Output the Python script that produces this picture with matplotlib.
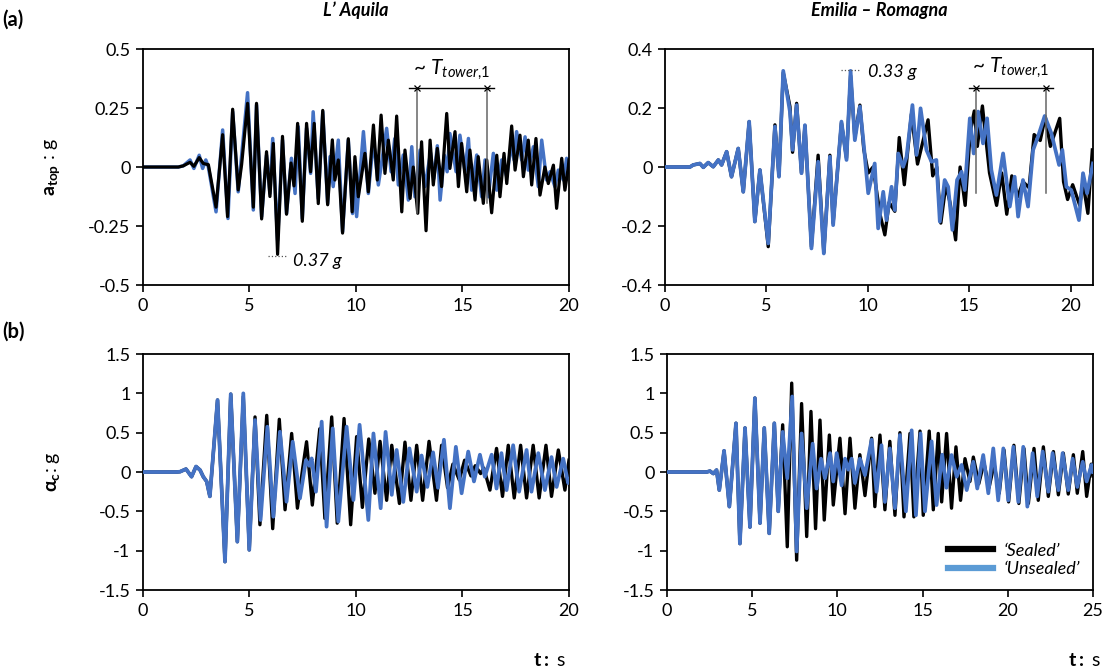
import matplotlib
matplotlib.use("Agg")
import matplotlib.pyplot as plt
from matplotlib.lines import Line2D

plt.rcParams['font.family'] = ['Lato', 'DejaVu Sans']
plt.rcParams['mathtext.fontset'] = 'custom'
plt.rcParams['mathtext.rm'] = 'Lato'
plt.rcParams['mathtext.it'] = 'Lato:italic'
plt.rcParams['mathtext.bf'] = 'Lato:bold'
plt.rcParams['axes.unicode_minus'] = False
plt.rcParams['lines.solid_joinstyle'] = 'round'

# ---- data: (t [s], value [g]) read from the peaks of each trace ----
# (a) L' Aquila, a_top
aq_top_sealed = [
    (0, 0), (1.66, 0), (1.89, 0.005), (2.21, 0.02), (2.39, 0.003), (2.64, 0.04), (2.83, 0.015),
    (3.07, 0.01), (3.43, -0.17), (3.74, 0.137), (3.97, -0.21), (4.21, 0.245), (4.47, -0.097),
    (4.63, 0.01), (4.91, 0.27), (5.18, -0.17), (5.33, 0.27), (5.57, -0.22), (5.80, 0.065),
    (5.96, -0.125), (6.12, 0.10), (6.32, -0.37), (6.55, 0.13), (6.74, -0.20), (6.95, 0.017),
    (7.09, -0.08), (7.26, 0.185), (7.48, -0.23), (7.68, 0.185), (7.87, -0.02), (8.04, 0.185),
    (8.23, -0.155), (8.44, 0.24), (8.67, -0.16), (8.89, 0.115), (9.01, -0.055), (9.17, 0.03),
    (9.37, -0.28), (9.64, 0.12), (9.82, -0.19), (9.95, 0.044), (10.11, -0.126), (10.42, 0.058),
    (10.58, -0.105), (10.82, 0.178), (11.00, -0.055), (11.18, 0.22), (11.36, -0.027), (11.52, 0.114),
    (11.75, -0.055), (11.91, 0.216), (12.15, -0.19), (12.30, 0.072), (12.54, -0.133), (12.69, 0.0),
    (12.90, -0.196), (13.08, 0.107), (13.29, -0.27), (13.48, 0.114), (13.63, -0.076), (13.82, 0.079),
    (14.02, -0.083), (14.26, 0.227), (14.41, -0.006), (14.65, 0.15), (14.81, -0.083), (14.96, 0.10),
    (15.20, -0.105), (15.35, 0.072), (15.59, -0.14), (15.74, 0.044), (15.98, -0.154), (16.14, 0.03),
    (16.37, -0.194), (16.61, 0.05), (16.76, -0.126), (16.95, 0.058), (17.08, -0.07), (17.31, 0.174),
    (17.47, -0.013), (17.70, 0.135), (17.86, -0.041), (18.09, 0.114), (18.25, -0.076), (18.45, 0.121),
    (18.64, -0.119), (18.87, 0.0), (19.03, -0.07), (19.27, 0.008), (19.42, -0.175), (19.66, 0.037),
    (19.81, -0.098), (19.97, 0.0), (20.0, 0.03)]
aq_top_unsealed = [
    (0, 0), (1.66, 0), (1.89, 0.005), (2.21, 0.03), (2.39, -0.006), (2.64, 0.05), (2.80, -0.006),
    (2.95, 0.03), (3.07, 0.0), (3.43, -0.19), (3.74, 0.157), (3.99, -0.218), (4.21, 0.234),
    (4.47, -0.105), (4.91, 0.315), (5.18, -0.182), (5.33, 0.263), (5.57, -0.21), (5.80, 0.05),
    (5.96, -0.112), (6.09, 0.121), (6.32, -0.31), (6.55, 0.114), (6.74, -0.197), (6.97, 0.037),
    (7.14, -0.112), (7.29, 0.171), (7.48, -0.218), (7.68, 0.164), (7.87, -0.027), (7.99, 0.234),
    (8.23, -0.133), (8.44, 0.234), (8.67, -0.154), (8.78, 0.044), (8.93, -0.083), (9.17, 0.114),
    (9.37, -0.274), (9.64, 0.114), (9.84, -0.197), (9.93, -0.05), (10.03, -0.21), (10.35, 0.15),
    (10.58, -0.112), (10.82, 0.114), (11.05, -0.076), (11.44, 0.164), (11.65, -0.02), (11.82, 0.12),
    (11.99, -0.076), (12.22, 0.051), (12.46, -0.14), (12.62, 0.086), (12.77, -0.126), (13.01, 0.072),
    (13.24, -0.083), (13.50, 0.06), (13.65, -0.05), (13.82, 0.09), (13.95, -0.14), (14.15, 0.05),
    (14.28, -0.02), (14.41, 0.142), (14.70, -0.02), (14.88, 0.135), (15.12, -0.02), (15.28, 0.121),
    (15.43, -0.098), (15.67, 0.051), (15.90, -0.126), (16.06, 0.03), (16.21, -0.126), (16.45, 0.058),
    (16.61, -0.098), (16.84, 0.03), (17.08, -0.041), (17.30, 0.10), (17.42, 0.03), (17.54, 0.15),
    (17.78, 0.03), (17.94, 0.128), (18.09, -0.013), (18.33, 0.086), (18.56, -0.083), (18.72, 0.114),
    (18.95, -0.055), (19.11, -0.02), (19.34, -0.083), (19.50, -0.013), (19.74, -0.055), (19.89, 0.037),
    (20.0, 0.0)]

# (a) Emilia - Romagna, a_top
em_top_unsealed = [
    (0, 0), (1.23, 0), (1.39, 0.007), (1.72, 0.012), (1.89, -0.001), (2.13, 0.015), (2.38, 0.001),
    (2.63, 0.024), (2.79, 0.007), (3.04, 0.052), (3.28, -0.033), (3.61, 0.063), (3.86, -0.084),
    (4.15, 0.154), (4.43, -0.185), (4.68, -0.010), (5.09, -0.259), (5.42, 0.137), (5.62, -0.033),
    (5.83, 0.326), (6.16, 0.188), (6.29, 0.058), (6.49, 0.210), (6.73, -0.021), (6.90, 0.142),
    (7.22, -0.276), (7.55, 0.018), (7.83, -0.293), (8.13, 0.035), (8.29, -0.197), (8.70, 0.154),
    (8.95, 0.024), (9.15, 0.326), (9.36, 0.091), (9.61, 0.205), (9.80, 0.075), (10.02, -0.089),
    (10.34, 0.012), (10.51, -0.208), (10.76, -0.084), (10.92, -0.180), (11.17, -0.067), (11.33, -0.146),
    (11.50, 0.046), (11.74, 0.001), (11.91, 0.035), (12.20, 0.210), (12.40, 0.041), (12.60, 0.199),
    (12.89, 0.058), (13.14, 0.018), (13.38, 0.024), (13.55, -0.185), (13.79, -0.044), (13.96, -0.067),
    (14.17, -0.213), (14.40, -0.044), (14.62, -0.016), (14.78, -0.078), (15.03, 0.165), (15.22, 0.046),
    (15.44, 0.188), (15.68, 0.080), (15.88, 0.165), (16.09, -0.010), (16.34, -0.095), (16.67, 0.046),
    (17.00, -0.134), (17.24, -0.033), (17.41, -0.168), (17.65, -0.044), (17.90, -0.134), (18.15, 0.058),
    (18.39, 0.103), (18.72, 0.173), (19.05, 0.114), (19.43, 0.007), (19.59, 0.058), (19.79, -0.067),
    (20.03, -0.078), (20.41, -0.180), (20.61, -0.021), (20.81, -0.089), (21.10, 0.012)]
em_top_sealed = [
    (0, 0), (1.23, 0), (1.39, 0.007), (1.72, 0.012), (1.89, -0.001), (2.13, 0.015), (2.38, 0.001),
    (2.63, 0.024), (2.79, 0.007), (3.04, 0.052), (3.28, -0.033), (3.61, 0.063), (3.86, -0.084),
    (4.15, 0.154), (4.43, -0.185), (4.68, -0.010), (5.09, -0.27), (5.42, 0.143), (5.62, -0.03),
    (5.83, 0.32), (6.16, 0.205), (6.29, 0.05), (6.49, 0.216), (6.73, -0.02), (6.90, 0.14),
    (7.22, -0.27), (7.55, 0.04), (7.83, -0.29), (8.13, 0.04), (8.29, -0.19), (8.70, 0.15),
    (8.95, 0.03), (9.15, 0.31), (9.36, 0.10), (9.61, 0.21), (9.80, 0.06), (10.02, -0.02),
    (10.26, 0.0), (10.60, -0.16), (10.84, -0.23), (11.05, -0.12), (11.33, -0.15), (11.55, 0.10),
    (11.80, -0.06), (12.15, 0.18), (12.45, 0.01), (12.97, 0.16), (13.20, -0.03), (13.40, 0.0),
    (13.60, -0.19), (13.85, -0.06), (14.05, -0.12), (14.33, -0.247), (14.55, 0.0), (14.80, -0.13),
    (15.05, 0.12), (15.25, 0.19), (15.40, 0.07), (15.65, 0.207), (16.00, -0.02), (16.35, -0.13),
    (16.60, -0.02), (16.85, -0.16), (17.10, -0.03), (17.40, -0.10), (17.65, -0.05), (17.95, -0.07),
    (18.20, 0.11), (18.50, 0.09), (18.75, 0.17), (19.00, 0.07), (19.46, 0.165), (19.65, -0.05),
    (19.85, -0.11), (20.10, -0.06), (20.45, -0.13), (20.60, -0.05), (20.85, -0.157), (21.07, 0.058)]

# (b) L' Aquila, alpha_c
aq_c_unsealed = [
    (0, 0), (1.58, 0), (1.74, 0.004), (2.02, 0.038), (2.28, -0.06), (2.49, 0.07), (2.68, 0.025),
    (2.83, -0.06), (2.99, -0.12), (3.14, -0.31), (3.50, 0.915), (3.85, -1.14), (4.12, 0.99),
    (4.43, -0.886), (4.71, 1.0), (4.99, -0.99), (5.26, 0.66), (5.52, -0.61), (5.84, 0.576),
    (6.12, -0.568), (6.43, 0.512), (6.74, -0.377), (7.03, 0.385), (7.37, -0.335), (7.65, 0.152),
    (7.80, 0.08), (7.92, 0.173), (8.12, -0.25), (8.39, 0.64), (8.62, -0.695), (8.91, 0.555),
    (9.17, -0.63), (9.56, 0.576), (9.88, -0.356), (10.17, 0.60), (10.58, -0.61), (10.82, 0.49),
    (11.16, -0.46), (11.39, 0.51), (11.68, -0.29), (11.91, 0.28), (12.22, -0.38), (12.51, 0.30),
    (12.85, -0.25), (13.08, 0.21), (13.35, -0.19), (13.62, 0.25), (13.85, -0.20), (14.13, 0.41),
    (14.41, -0.46), (14.69, 0.32), (14.96, -0.27), (15.27, 0.26), (15.54, -0.12), (15.82, 0.22),
    (16.05, -0.06), (16.37, 0.22), (16.60, -0.21), (16.83, 0.24), (17.07, -0.23), (17.38, 0.34),
    (17.66, -0.25), (18.01, 0.28), (18.24, -0.25), (18.56, 0.24), (18.87, -0.23), (19.18, 0.19),
    (19.42, -0.19), (19.73, 0.17), (19.96, -0.14), (20.0, -0.10)]
aq_c_sealed = [
    (0, 0), (1.58, 0), (1.74, 0.004), (2.02, 0.038), (2.28, -0.06), (2.49, 0.07), (2.68, 0.025),
    (2.83, -0.06), (2.99, -0.12), (3.14, -0.31), (3.50, 0.915), (3.85, -1.14), (4.12, 0.99),
    (4.43, -0.886), (4.71, 0.96), (4.99, -0.99), (5.26, 0.70), (5.49, -0.67), (5.81, 0.72),
    (6.09, -0.72), (6.40, 0.67), (6.67, -0.48), (6.98, 0.49), (7.25, -0.46), (7.50, 0.05),
    (7.68, 0.385), (7.95, -0.42), (8.30, 0.55), (8.54, -0.59), (8.86, 0.70), (9.12, -0.65),
    (9.44, 0.68), (9.75, -0.67), (10.03, 0.45), (10.30, -0.45), (10.60, 0.42), (10.89, -0.27),
    (11.13, 0.39), (11.44, -0.36), (11.68, 0.34), (12.04, -0.40), (12.30, 0.38), (12.58, -0.36),
    (12.85, 0.34), (13.13, -0.36), (13.43, 0.39), (13.78, -0.36), (14.02, 0.34), (14.30, -0.20),
    (14.55, 0.10), (14.85, -0.10), (15.10, 0.15), (15.40, -0.05), (15.60, 0.08), (15.85, -0.02),
    (16.00, 0.05), (16.29, -0.23), (16.60, 0.30), (16.88, -0.31), (17.15, 0.34), (17.43, -0.33),
    (17.73, 0.34), (18.01, -0.33), (18.32, 0.34), (18.60, -0.33), (18.92, 0.34), (19.18, -0.31),
    (19.50, 0.28), (19.81, -0.23), (20.0, 0.15)]

# (b) Emilia - Romagna, alpha_c
em_c_unsealed = [
    (0, 0), (2.33, 0), (2.52, 0.012), (2.72, -0.02), (2.91, 0.025), (3.07, -0.23), (3.35, 0.27),
    (3.66, -0.44), (4.05, 0.62), (4.28, -0.91), (4.58, 0.56), (4.87, -0.70), (5.16, 0.94),
    (5.46, -0.65), (5.71, 0.56), (6.00, -0.78), (6.30, 0.62), (6.53, -0.50), (6.79, 0.51),
    (7.06, -0.08), (7.35, 0.96), (7.61, -1.01), (7.90, 0.49), (8.20, -0.46), (8.55, 0.36),
    (8.78, -0.21), (9.04, 0.17), (9.27, -0.08), (9.57, 0.24), (9.76, -0.12), (9.96, 0.24),
    (10.25, -0.17), (10.45, 0.17), (10.64, 0.03), (10.84, 0.17), (11.03, -0.14), (11.32, 0.17),
    (11.62, -0.04), (12.01, 0.41), (12.30, -0.25), (12.59, 0.34), (12.79, -0.38), (13.08, 0.30),
    (13.38, -0.46), (13.67, 0.47), (14.02, -0.50), (14.36, 0.53), (14.61, -0.55), (14.88, 0.49),
    (15.14, -0.50), (15.53, 0.39), (15.82, -0.42), (16.15, 0.22), (16.40, -0.20), (16.70, 0.216),
    (17.00, -0.06), (17.29, 0.09), (17.59, -0.23), (17.98, 0.13), (18.21, -0.21), (18.56, 0.216),
    (18.86, -0.27), (19.15, 0.30), (19.44, -0.36), (19.74, 0.30), (20.03, -0.36), (20.33, 0.32),
    (20.62, -0.38), (20.91, 0.32), (21.15, -0.44), (21.46, 0.24), (21.73, -0.31), (22.05, 0.26),
    (22.38, -0.25), (22.63, 0.24), (22.97, -0.23), (23.22, 0.24), (23.55, -0.23), (23.81, 0.17),
    (24.08, -0.19), (24.40, 0.13), (24.63, -0.12), (24.92, 0.09), (25.0, 0.0)]
em_c_sealed = [
    (0, 0), (2.33, 0), (2.52, 0.012), (2.72, -0.02), (2.91, 0.025), (3.07, -0.23), (3.35, 0.27),
    (3.66, -0.44), (4.05, 0.62), (4.28, -0.91), (4.58, 0.56), (4.87, -0.70), (5.16, 0.94),
    (5.46, -0.65), (5.71, 0.56), (6.00, -0.78), (6.30, 0.62), (6.53, -0.50), (6.79, 0.60),
    (7.06, -0.95), (7.32, 1.13), (7.61, -1.12), (7.90, 0.87), (8.20, -0.82), (8.45, 0.77),
    (8.72, -0.72), (8.98, 0.66), (9.23, -0.61), (9.53, 0.47), (9.76, -0.42), (10.15, 0.43),
    (10.45, -0.53), (10.74, 0.43), (11.03, -0.46), (11.32, 0.22), (11.62, -0.30), (12.01, 0.43),
    (12.20, -0.44), (12.50, 0.47), (12.79, -0.48), (13.08, 0.39), (13.38, -0.55), (13.67, 0.50),
    (13.91, -0.57), (14.26, 0.49), (14.49, -0.57), (14.85, 0.52), (15.04, -0.55), (15.39, 0.52),
    (15.63, -0.48), (15.92, 0.49), (16.12, -0.38), (16.41, 0.49), (16.70, -0.46), (16.96, 0.32),
    (17.23, -0.36), (17.49, 0.17), (17.78, -0.12), (17.98, 0.19), (18.30, -0.15), (18.60, 0.12),
    (18.90, -0.20), (19.20, 0.10), (19.50, -0.27), (19.78, 0.28), (20.05, -0.38), (20.36, 0.34),
    (20.65, -0.40), (20.95, 0.30), (21.21, -0.40), (21.54, 0.30), (21.79, -0.36), (22.09, 0.32),
    (22.38, -0.31), (22.68, 0.26), (22.97, -0.29), (23.26, 0.24), (23.55, -0.28), (23.85, 0.22),
    (24.08, -0.27), (24.40, 0.26), (24.63, -0.31), (24.90, 0.10), (25.0, -0.05)]

# peak labels and tower-period markers
aq_peak = -0.37
em_peak = 0.33
aq_period = (12.85, 16.14)
em_period = (15.35, 18.80)

BLACK = 'black'
BLUE = '#4472C4'
BLUE_LEG = '#5B9BD5'


def unzip(pairs):
    return [p[0] for p in pairs], [p[1] for p in pairs]


def style(ax, xlim, xticks, ylim, yticks):
    ax.set_xlim(xlim)
    ax.set_ylim(ylim)
    ax.set_xticks(xticks)
    ax.set_yticks(yticks)
    ax.set_yticklabels(['{:g}'.format(v) for v in yticks])
    ax.tick_params(direction='out', length=5, width=1.2, labelsize=13, pad=4)
    for s in ax.spines.values():
        s.set_linewidth(1.3)


fig = plt.figure(figsize=(11.05, 6.7), dpi=100)

ax1 = fig.add_axes([0.1294, 0.5746, 0.3855, 0.3522])
ax2 = fig.add_axes([0.6018, 0.5746, 0.3873, 0.3522])
ax3 = fig.add_axes([0.1294, 0.1194, 0.3855, 0.3522])
ax4 = fig.add_axes([0.6036, 0.1194, 0.3855, 0.3522])

# top left: black on top
t, v = unzip(aq_top_unsealed)
ax1.plot(t, v, color=BLUE, lw=2.5, zorder=2)
t, v = unzip(aq_top_sealed)
ax1.plot(t, v, color=BLACK, lw=2.3, zorder=3)
style(ax1, (0, 20), [0, 5, 10, 15, 20], (-0.5, 0.5), [-0.5, -0.25, 0, 0.25, 0.5])

# other panels: blue on top
t, v = unzip(em_top_sealed)
ax2.plot(t, v, color=BLACK, lw=2.4, zorder=2)
t, v = unzip(em_top_unsealed)
ax2.plot(t, v, color=BLUE, lw=2.7, zorder=3)
style(ax2, (0, 21.1), [0, 5, 10, 15, 20], (-0.4, 0.4), [-0.4, -0.2, 0, 0.2, 0.4])

t, v = unzip(aq_c_sealed)
ax3.plot(t, v, color=BLACK, lw=2.4, zorder=2)
t, v = unzip(aq_c_unsealed)
ax3.plot(t, v, color=BLUE, lw=2.7, zorder=3)
style(ax3, (0, 20), [0, 5, 10, 15, 20], (-1.5, 1.5), [-1.5, -1, -0.5, 0, 0.5, 1, 1.5])

t, v = unzip(em_c_sealed)
ax4.plot(t, v, color=BLACK, lw=2.4, zorder=2)
t, v = unzip(em_c_unsealed)
ax4.plot(t, v, color=BLUE, lw=2.7, zorder=3)
style(ax4, (0, 25), [0, 5, 10, 15, 20, 25], (-1.5, 1.5), [-1.5, -1, -0.5, 0, 0.5, 1, 1.5])

# peak annotations
ax1.plot([5.87, 6.76], [aq_peak - 0.005, aq_peak - 0.005], color='#555555', lw=0.9, ls=':', zorder=4)
ax1.text(7.05, aq_peak - 0.03, '{:.2f} g'.format(abs(aq_peak)), style='italic', fontsize=13, va='center')
ax2.plot([8.67, 9.61], [em_peak, em_peak], color='#555555', lw=0.9, ls=':', zorder=4)
ax2.text(10.0, em_peak - 0.008, '{:.2f} g'.format(em_peak), style='italic', fontsize=13, va='center')

# tower period markers
for ax, (ta, tb), yh, ybot, x0, x1, ylab in [
        (ax1, aq_period, 0.333, (-0.195, -0.153), 12.49, 16.48, 0.41),
        (ax2, em_period, 0.267, (-0.089, -0.089), 14.98, 19.11, 0.336)]:
    ax.plot([x0, x1], [yh, yh], color='black', lw=1.0, zorder=5)
    ax.plot([ta, ta], [yh, ybot[0]], color='#666666', lw=1.1, zorder=5)
    ax.plot([tb, tb], [yh, ybot[1]], color='#666666', lw=1.1, zorder=5)
    ax.plot([ta, tb], [yh, yh], ls='none', marker='x', ms=4, mew=0.9, color='black', zorder=6)
    ax.text((x0 + x1) / 2, ylab, r'~ $T_{tower{,}1}$', fontsize=15, ha='center', va='center')

# axis labels
ax1.set_ylabel(r'$\mathbf{a_{top}}$ : g', fontsize=14)
ax3.set_ylabel(r'$\mathbf{\alpha_{c}}$: g', fontsize=14)
ax1.yaxis.set_label_coords(-0.19, 0.5)
ax3.yaxis.set_label_coords(-0.19, 0.5)

ax1.set_title("L’ Aquila", fontsize=13, fontweight='bold', style='italic', pad=24)
ax2.set_title('Emilia – Romagna', fontsize=13, fontweight='bold', style='italic', pad=24)

fig.text(0.002, 0.97, '(a)', fontsize=14.5, fontweight='bold', va='center')
fig.text(0.002, 0.505, '(b)', fontsize=14.5, fontweight='bold', va='center')

fig.text(566 / 1105, 0.014, r'$\mathbf{t:}$ s', fontsize=14, ha='right', va='center')
fig.text(1101 / 1105, 0.014, r'$\mathbf{t:}$ s', fontsize=14, ha='right', va='center')

handles = [Line2D([], [], color=BLACK, lw=4.5), Line2D([], [], color=BLUE_LEG, lw=4.5)]
ax4.legend(handles, ['‘Sealed’', '‘Unsealed’'], loc='lower right', bbox_to_anchor=(1.0, 0.0),
           frameon=False, prop={'style': 'italic', 'size': 13}, handlelength=2.5,
           handletextpad=0.6, labelspacing=0.15, borderaxespad=0.3)

fig.savefig('out.png', dpi=100)
